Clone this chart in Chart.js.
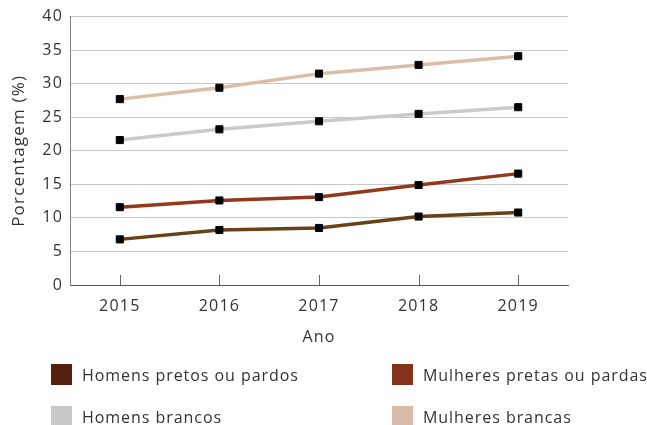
<!DOCTYPE html>
<html>
<head>
<meta charset="utf-8">
<script src="https://cdn.jsdelivr.net/npm/chart.js@4"></script>
<style>
  html, body { margin: 0; padding: 0; background: #fff; }
  #wrap { position: relative; width: 647px; height: 425px; overflow: hidden; font-family: 'Open Sans', sans-serif; }
  #c { position: absolute; left: 0; top: 0; }
  .lg { position: absolute; display: flex; align-items: center; font-size: 16px; letter-spacing: 0.95px; color: #333; white-space: nowrap; height: 21px; }
  .lg .box { width: 21px; height: 21px; margin-right: 10px; flex: none; }
</style>
</head>
<body>
<div id="wrap">
  <canvas id="c" width="647" height="425"></canvas>
  <div id="legend"></div>
</div>
<script>
const years = ['2015', '2016', '2017', '2018', '2019'];
const seriesNames = ['Homens pretos ou pardos', 'Mulheres pretas ou pardas', 'Homens brancos', 'Mulheres brancas'];
const homensPretos = [6.8, 8.2, 8.5, 10.2, 10.8];
const mulheresPretas = [11.6, 12.6, 13.1, 14.9, 16.6];
const homensBrancos = [21.6, 23.2, 24.4, 25.5, 26.5];
const mulheresBrancas = [27.7, 29.4, 31.5, 32.8, 34.1];
const yTicks = [0, 5, 10, 15, 20, 25, 30, 35, 40];

const lineColors = ['#6a4116', '#93381a', '#cacaca', '#dcbda9'];
const boxColors = ['#55200f', '#86321a', '#c8c8c8', '#d8bba8'];
const values = [homensPretos, mulheresPretas, homensBrancos, mulheresBrancas];

const FONT = 'Open Sans';

const spacing = {
  id: 'spacing',
  beforeDraw(chart) { try { chart.ctx.letterSpacing = '1.2px'; } catch (e) {} },
  afterDraw(chart) { try { chart.ctx.letterSpacing = '0px'; } catch (e) {} }
};

const innerTicks = {
  id: 'innerTicks',
  afterDraw(chart) {
    const x = chart.scales.x, ctx = chart.ctx, b = chart.chartArea.bottom;
    ctx.save();
    ctx.strokeStyle = '#666';
    ctx.lineWidth = 1;
    ctx.beginPath();
    for (let i = 0; i < years.length; i++) {
      const px = Math.round(x.getPixelForTick(i)) + 0.5;
      ctx.moveTo(px, b - 10);
      ctx.lineTo(px, b);
    }
    ctx.stroke();
    ctx.restore();
  }
};

const chart = new Chart(document.getElementById('c'), {
  type: 'line',
  data: {
    labels: years,
    datasets: seriesNames.map((name, i) => ({
      label: name,
      data: values[i],
      borderColor: lineColors[i],
      backgroundColor: boxColors[i],
      borderWidth: 3.5,
      pointStyle: 'rect',
      pointRadius: 5,
      pointBorderWidth: 1,
      pointBorderColor: '#000',
      pointBackgroundColor: '#000',
      tension: 0,
      fill: false
    }))
  },
  options: {
    responsive: false,
    animation: false,
    devicePixelRatio: 1,
    layout: { padding: { left: 0, right: 79, top: 16, bottom: 75 } },
    plugins: { legend: { display: false }, tooltip: { enabled: false } },
    scales: {
      x: {
        type: 'category',
        offset: true,
        grid: { display: false },
        border: { display: true, color: '#555', width: 1 },
        ticks: { color: '#333', font: { family: FONT, size: 16 }, padding: 4, maxRotation: 0 },
        title: { display: true, text: 'Ano', color: '#333', font: { family: FONT, size: 16 }, padding: { top: 0, bottom: 3 } },
        afterFit(s) { s.height = 65; }
      },
      y: {
        min: 0, max: 40,
        afterBuildTicks(s) { s.ticks = yTicks.map(v => ({ value: v })); },
        grid: { color: '#c8c8c8', drawTicks: false, lineWidth: 1 },
        border: { display: true, color: '#808080', width: 1 },
        ticks: { color: '#333', font: { family: FONT, size: 16 }, padding: 7 },
        title: { display: true, text: 'Porcentagem (%)', color: '#333', font: { family: FONT, size: 17 }, padding: { top: 9, bottom: 0 } },
        afterFit(s) { s.width = 70; }
      }
    }
  },
  plugins: [spacing, innerTicks]
});

// HTML legend built from the chart's datasets
const legendPos = [
  { left: 51, top: 364 }, { left: 392, top: 364 },
  { left: 51, top: 406 }, { left: 392, top: 406 }
];
const lg = document.getElementById('legend');
chart.data.datasets.forEach((ds, i) => {
  const d = document.createElement('div');
  d.className = 'lg';
  d.style.left = legendPos[i].left + 'px';
  d.style.top = legendPos[i].top + 'px';
  const b = document.createElement('span');
  b.className = 'box';
  b.style.background = ds.backgroundColor;
  const t = document.createElement('span');
  t.textContent = ds.label;
  d.appendChild(b); d.appendChild(t);
  lg.appendChild(d);
});
</script>
</body>
</html>
